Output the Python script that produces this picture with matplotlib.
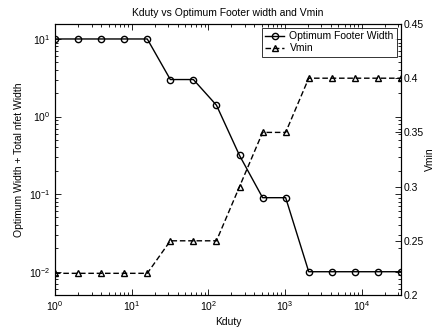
import matplotlib
matplotlib.use("Agg")
import matplotlib.pyplot as plt
import numpy as np
from matplotlib.ticker import LogLocator, MultipleLocator, NullFormatter

plt.rcParams['font.family'] = ['Liberation Sans', 'DejaVu Sans']
plt.rcParams['mathtext.fontset'] = 'custom'
plt.rcParams['mathtext.rm'] = 'Liberation Sans'
plt.rcParams['mathtext.it'] = 'Liberation Sans:italic'
plt.rcParams['mathtext.bf'] = 'Liberation Sans:bold'

# Kduty sweep (powers of two)
kduty = [1, 2, 4, 8, 16, 32, 64, 128, 256, 512, 1024, 2048, 4096, 8192, 16384, 32768]
footer_width = [10, 10, 10, 10, 10, 3.0, 3.0, 1.4, 0.315, 0.09, 0.09,
                0.01, 0.01, 0.01, 0.01, 0.01]
vmin = [0.22, 0.22, 0.22, 0.22, 0.22, 0.25, 0.25, 0.25, 0.30, 0.35, 0.35,
        0.40, 0.40, 0.40, 0.40, 0.40]

fig = plt.figure(figsize=(4.38, 3.31), dpi=100)
ax1 = fig.add_axes([55/438, 1-295/331, (401-55)/438, (295-24)/331])
ax2 = ax1.twinx()

fs = 7.5
l1, = ax1.plot(kduty, footer_width, '-o', color='black', lw=1.0,
               markersize=4.5, markerfacecolor='none', markeredgewidth=1.0,
               label='Optimum Footer Width')
l2, = ax2.plot(kduty, vmin, '--^', color='black', lw=1.0, dashes=(4, 2),
               markersize=4.5, markerfacecolor='none', markeredgewidth=1.0,
               label='Vmin')

ax1.set_xscale('log')
ax1.set_yscale('log')
ax1.set_xlim(1, 32768)
ax1.set_ylim(10**-2.3, 10**1.193)
ax2.set_ylim(0.2, 0.45)

ax1.xaxis.set_major_locator(LogLocator(base=10, numticks=10))
ax1.xaxis.set_minor_locator(LogLocator(base=10, subs=np.arange(2, 10), numticks=10))
ax1.xaxis.set_minor_formatter(NullFormatter())
ax1.yaxis.set_major_locator(LogLocator(base=10, numticks=10))
ax1.yaxis.set_minor_locator(LogLocator(base=10, subs=np.arange(2, 10), numticks=10))
ax1.yaxis.set_minor_formatter(NullFormatter())
ax2.yaxis.set_major_locator(MultipleLocator(0.05))
ax2.yaxis.set_major_formatter(plt.FuncFormatter(lambda v, p: f"{v:g}"))

ax1.tick_params(which='both', direction='in', top=True, right=True,
                labelsize=fs, colors='black', pad=3)
ax1.tick_params(which='major', length=4, width=0.6)
ax1.tick_params(which='minor', length=2, width=0.6)
ax2.tick_params(which='both', direction='in', labelsize=fs, length=4, width=0.6, pad=2)

for ax in (ax1, ax2):
    for sp in ax.spines.values():
        sp.set_linewidth(0.8)
        sp.set_color('black')

ax1.set_title('Kduty vs Optimum Footer width and Vmin', fontsize=fs, pad=6)
ax1.set_xlabel('Kduty', fontsize=fs, labelpad=3)
ax1.set_ylabel('Optimum Width + Total nfet Width', fontsize=fs, labelpad=4)
ax2.set_ylabel('Vmin', fontsize=fs, labelpad=1)

leg = ax2.legend(handles=[l1, l2], loc='upper right', fontsize=fs,
                 frameon=True, fancybox=False, edgecolor='black',
                 borderaxespad=0.4, handlelength=1.8, handletextpad=0.5,
                 borderpad=0.3, labelspacing=0.2)
leg.get_frame().set_linewidth(0.7)

fig.savefig('out.png', dpi=100, facecolor='white')
